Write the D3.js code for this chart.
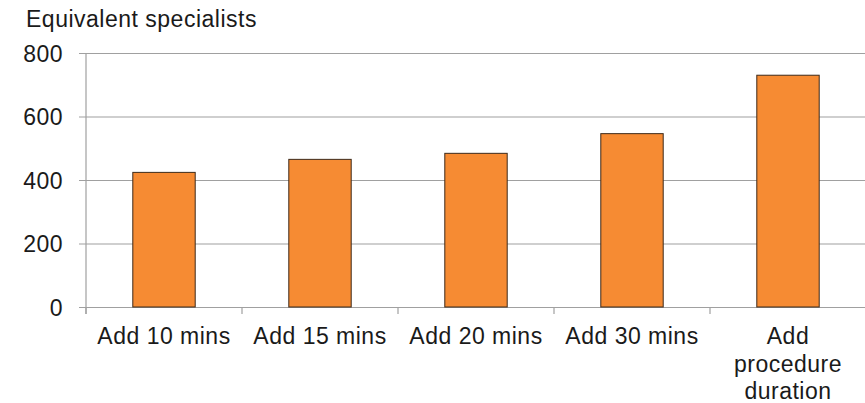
<!DOCTYPE html>
<html>
<head>
<meta charset="utf-8">
<script src="https://cdn.jsdelivr.net/npm/d3@7"></script>
<style>
  body { margin: 0; background: #fff; }
  svg text { font-family: "Liberation Sans", Arial, sans-serif; fill: #1a1a1a; }
</style>
</head>
<body>
<div id="chart"></div>
<script>
// data
var categories = ["Add 10 mins", "Add 15 mins", "Add 20 mins", "Add 30 mins", "Add procedure duration"];
var categoryLines = [["Add 10 mins"], ["Add 15 mins"], ["Add 20 mins"], ["Add 30 mins"], ["Add", "procedure", "duration"]];
var values = [424, 465, 484, 546, 730];
var yTicks = [0, 200, 400, 600, 800];
var yTitle = "Equivalent specialists";

function init() {
    const w = 865;
    const h = 403;
    const left = 86, right = 866, top = 53, bottom = 307;

    var svg = d3.select("#chart")
        .append("svg")
        .attr("width", w)
        .attr("height", h);

    var xScale = d3.scaleBand()
        .domain(categories)
        .range([left, right])
        .padding(0);

    var yScale = d3.scaleLinear()
        .domain([0, 800])
        .range([bottom, top]);

    // gridlines + y labels
    var yAxis = svg.append("g")
        .attr("transform", "translate(79,0)")
        .call(d3.axisLeft(yScale)
            .tickValues(yTicks)
            .tickSize(-(right - 79))
            .tickPadding(16));
    yAxis.select(".domain").remove();
    yAxis.selectAll(".tick line").attr("stroke", "#a0a0a0").attr("stroke-width", 1.2);
    yAxis.selectAll(".tick text")
        .style("font-size", "23px")
        .style("letter-spacing", "0.5px")
        .attr("dy", "0.36em");

    // y axis line
    svg.append("line")
        .attr("x1", left).attr("x2", left)
        .attr("y1", yScale(800)).attr("y2", bottom + 7)
        .attr("stroke", "#a0a0a0").attr("stroke-width", 1.2);

    // x ticks at band edges
    var edges = categories.map(function (c) { return xScale(c); }).concat([right]);
    svg.selectAll(".xtick")
        .data(edges)
        .enter()
        .append("line")
        .attr("class", "xtick")
        .attr("x1", function (d) { return d; })
        .attr("x2", function (d) { return d; })
        .attr("y1", bottom)
        .attr("y2", bottom + 7)
        .attr("stroke", "#a0a0a0").attr("stroke-width", 1.2);

    // bars
    var barW = xScale.bandwidth() * 0.4;
    svg.selectAll(".bar")
        .data(values)
        .enter()
        .append("rect")
        .attr("class", "bar")
        .attr("x", function (d, i) { return xScale(categories[i]) + (xScale.bandwidth() - barW) / 2; })
        .attr("y", function (d) { return yScale(d); })
        .attr("width", barW)
        .attr("height", function (d) { return bottom - yScale(d); })
        .attr("fill", "#f68b33")
        .attr("stroke", "#3d2a1a")
        .attr("stroke-width", 1);

    // x labels
    var labels = svg.selectAll(".xlabel")
        .data(categoryLines)
        .enter()
        .append("text")
        .attr("class", "xlabel")
        .attr("text-anchor", "middle")
        .style("font-size", "23px")
        .style("letter-spacing", "0.5px")
        .attr("x", function (d, i) { return xScale(categories[i]) + xScale.bandwidth() / 2; })
        .attr("y", 344);
    labels.selectAll("tspan")
        .data(function (d) { return d; })
        .enter()
        .append("tspan")
        .attr("x", function () { return d3.select(this.parentNode).attr("x"); })
        .attr("dy", function (d, i) { return i === 0 ? 0 : 27.5; })
        .text(function (d) { return d; });

    // axis title
    svg.append("text")
        .attr("x", 26)
        .attr("y", 27)
        .style("font-size", "23px")
        .style("letter-spacing", "0.5px")
        .text(yTitle);
}
window.onload = init;
</script>
</body>
</html>
